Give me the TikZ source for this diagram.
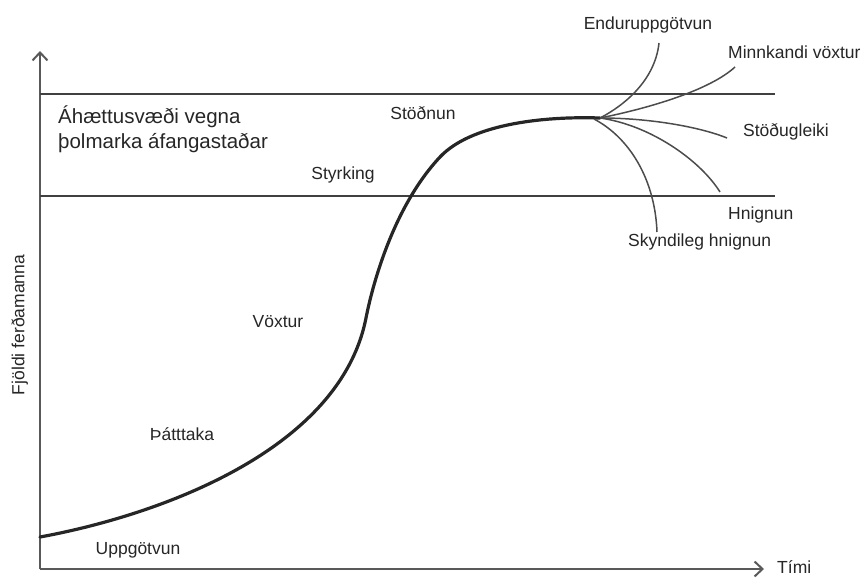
\documentclass[tikz,border=0pt]{standalone}
\usepackage{fontspec}
\setmainfont{Liberation Sans}
\usetikzlibrary{arrows.meta}

\begin{document}
\begin{tikzpicture}[
  x=1pt, y=-1pt,
  font=\fontsize{17.5}{21}\selectfont,
  lbl/.style={inner sep=0pt, text=black!85, text height=12.6pt, text depth=0pt},
  zonelbl/.style={inner sep=0pt, text=black!85, anchor=base west, font=\fontsize{20.5}{25}\selectfont},
  axis/.style={draw=black!65, line width=2pt, -{Straight Barb[length=8pt,width=15pt,line width=2pt]}},
  zone/.style={draw=black!75, line width=2pt},
  life/.style={draw=black!85, line width=3.2pt, line cap=round},
  branch/.style={draw=black!70, line width=1.5pt},
]
\useasboundingbox (0,0) rectangle (862,578);

% axes
\coordinate (o) at (40,569);
\coordinate (ytop) at (40,51);
\coordinate (xend) at (764,569);
\draw[axis] (o) -- (ytop);
\draw[axis] (o) -- (xend);
\node[lbl, rotate=90] (ylab) at (18,325) {Fjöldi ferðamanna};
\node[lbl, anchor=west] (xlab) at (777,567) {Tími};

% carrying capacity zone
\coordinate (z1l) at (40,94);  \coordinate (z1r) at (775,94);
\coordinate (z2l) at (40,196); \coordinate (z2r) at (775,196);
\draw[zone] (z1l) -- (z1r);
\draw[zone] (z2l) -- (z2r);
\node[zonelbl] (zone1) at (58,123) {Áhættusvæði vegna};
\node[zonelbl] (zone2) at (58,148) {þolmarka áfangastaðar};

% life cycle curve
\coordinate (start) at (40,537);
\coordinate (steep) at (366,318);
\coordinate (bend) at (440,157);
\coordinate (fan) at (600,118);
\draw[life] (start) .. controls (160,515) and (340,450) .. (steep)
  .. controls (373.5,280) and (395,205) .. (bend)
  .. controls (470,125) and (540,116) .. (fan);

% stages
\node[lbl] (s1) at (138,548) {Uppgötvun};
\node[lbl] (s2) at (182,434) {Þátttaka};
\node[lbl] (s3) at (278,321) {Vöxtur};
\node[lbl] (s4) at (343,173) {Styrking};
\node[lbl] (s5) at (423,113) {Stöðnun};

% possible futures
\coordinate (e1) at (659,43);
\coordinate (e2) at (735,67);
\coordinate (e3) at (727,138);
\coordinate (e4) at (720,192);
\coordinate (e5) at (657,232);
\draw[branch] (fan) .. controls (625,105) and (655,80) .. (e1);
\draw[branch] (fan) .. controls (650,108) and (710,90) .. (e2);
\draw[branch] (fan) .. controls (650,118) and (700,127) .. (e3);
\draw[branch] (fan) .. controls (650,125) and (700,160) .. (e4);
\draw[branch] (594,119) .. controls (630,138) and (655,180) .. (e5);

\node[lbl] (f1) at (648,23) {Enduruppgötvun};
\node[lbl, anchor=west] (f2) at (728,52) {Minnkandi vöxtur};
\node[lbl, anchor=west] (f3) at (743,130) {Stöðugleiki};
\node[lbl, anchor=west] (f4) at (728,213) {Hnignun};
\node[lbl, anchor=west] (f5) at (628,240) {Skyndileg hnignun};
\end{tikzpicture}
\end{document}
